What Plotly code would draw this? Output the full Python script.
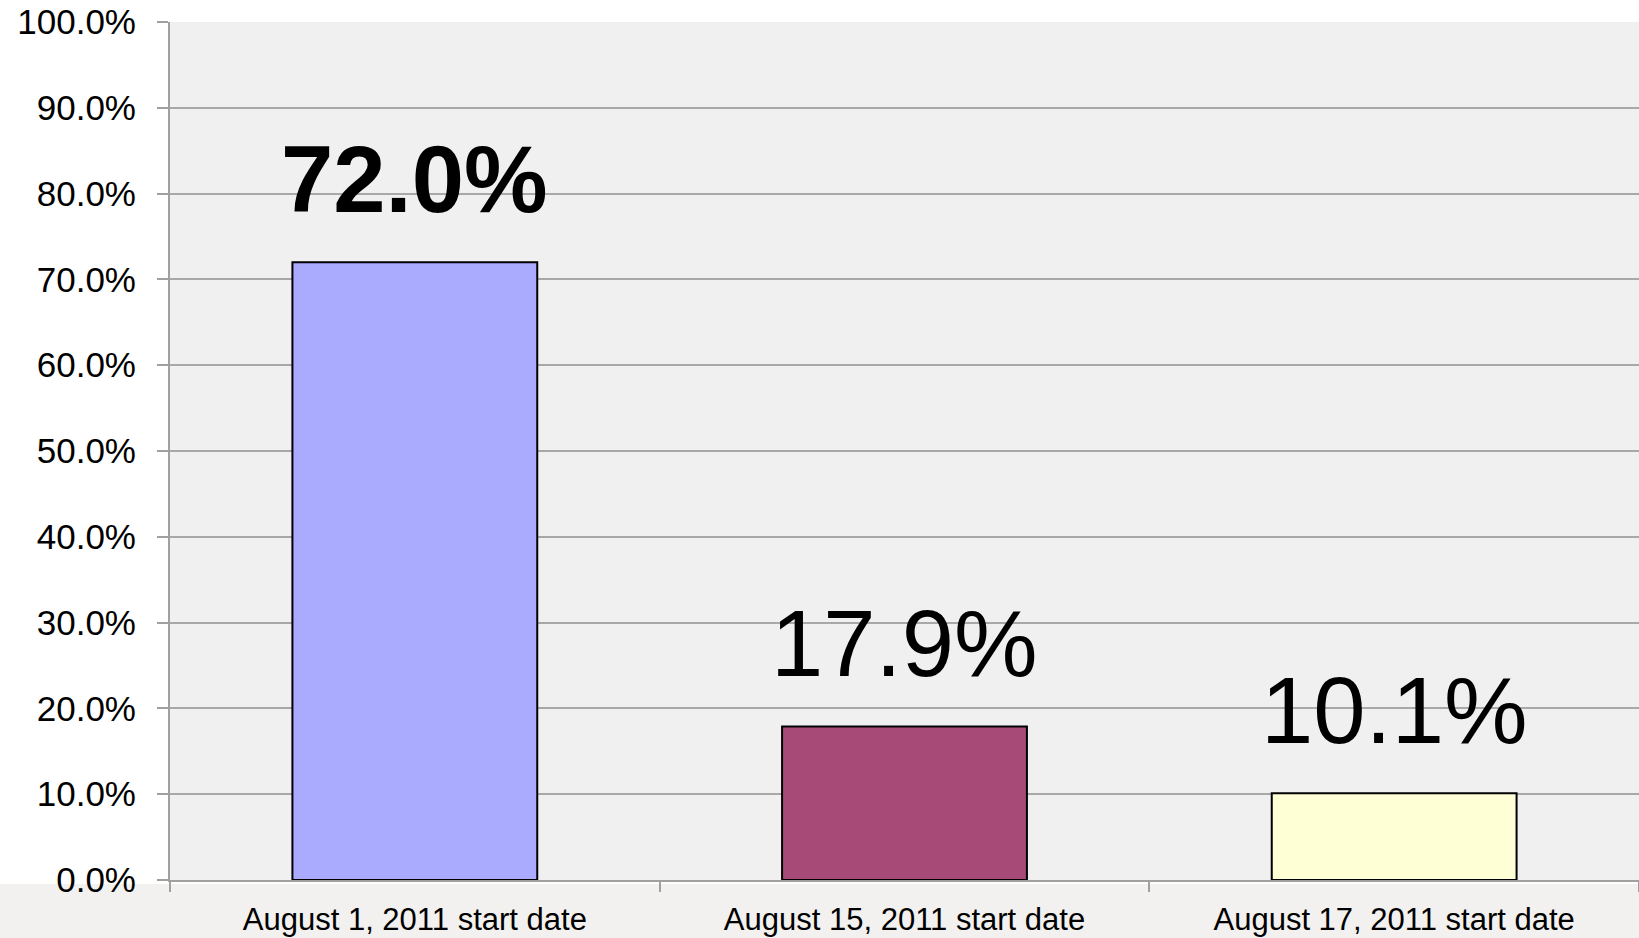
import plotly.graph_objects as go

categories = ["August 1, 2011 start date", "August 15, 2011 start date", "August 17, 2011 start date"]
values = [72.0, 17.9, 10.1]
bar_colors = ["#aaaaff", "#a84a78", "#ffffd5"]
label_weights = ["bold", "normal", "normal"]
y_ticks = [0, 10, 20, 30, 40, 50, 60, 70, 80, 90, 100]
y_tick_labels = [f"{v:.1f}%" for v in y_ticks]

FONT = "Liberation Sans, Arial, Helvetica, sans-serif"
W, H = 1639, 938
ML, MR, MT, MB = 170, 0, 22, 58

fig = go.Figure()
fig.add_trace(go.Bar(
    x=categories, y=values, width=0.5,
    marker=dict(color=bar_colors, line=dict(color="#000000", width=2)),
    hoverinfo="skip",
))

for c, v, w in zip(categories, values, label_weights):
    fig.add_annotation(
        x=c, y=v, text=f"{v:.1f}%", showarrow=False,
        xanchor="center", yanchor="bottom", yshift=28,
        font=dict(family=FONT, size=94, color="#000000", weight=w),
    )

# light grey band behind the category labels (slide background)
pw = W - ML - MR
ph = H - MT - MB
fig.add_shape(
    type="rect", xref="paper", yref="paper", layer="below",
    x0=-ML / pw, x1=1 + MR / pw, y0=-MB / ph, y1=-4 / ph,
    fillcolor="#f2f1ef", line=dict(width=0),
)

fig.update_layout(
    width=W, height=H,
    margin=dict(l=ML, r=MR, t=MT, b=MB),
    paper_bgcolor="#ffffff", plot_bgcolor="#f0f0f0",
    showlegend=False, bargap=0.5,
    font=dict(family=FONT, color="#000000"),
)
fig.update_xaxes(
    type="category", tickson="boundaries", ticks="outside", ticklen=10,
    tickcolor="#a0a0a0", tickwidth=2, showline=True, linecolor="#a0a0a0", linewidth=2,
    showgrid=False, tickfont=dict(size=31, family=FONT, color="#000000"),
    ticklabelstandoff=11,
)
fig.update_yaxes(
    range=[0, 100], tickvals=y_ticks, ticktext=y_tick_labels,
    ticks="outside", ticklen=11, tickcolor="#a0a0a0", tickwidth=2,
    showline=True, linecolor="#a0a0a0", linewidth=2,
    showgrid=True, gridcolor="#a8a8a8", gridwidth=2, zeroline=False,
    tickfont=dict(size=35, family=FONT, color="#000000"),
    ticklabelstandoff=14,
)

fig.write_html(
    "out.html",
    config={"displayModeBar": False},
    post_script="document.body.style.margin='0';document.body.style.overflow='hidden';",
)
